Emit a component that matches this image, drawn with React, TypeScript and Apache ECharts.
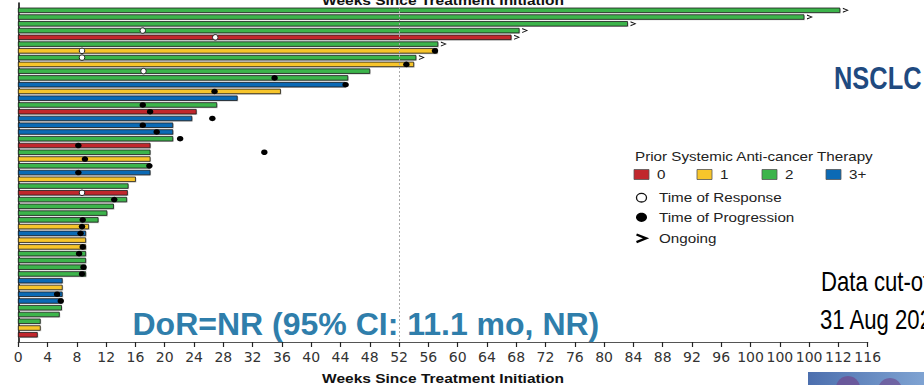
import React, { useEffect, useRef } from "react";
import * as echarts from "echarts";

// ---- data ----
const therapyGroups = ["0", "1", "2", "3+"];
const groupColors = ["#c1272d", "#f7c52b", "#3cb44b", "#0b6ab5"];

// prior therapy group per patient row (top to bottom)
const rowTherapy = [
  "2", "2", "2", "2", "0", "2", "1", "2", "1", "2",
  "2", "3+", "1", "3+", "2", "0", "3+", "3+", "3+", "2",
  "0", "2", "1", "2", "3+", "1", "2", "0", "2", "2",
  "2", "2", "1", "3+", "1", "1", "2", "2", "2", "2",
  "3+", "1", "3+", "3+", "2", "2", "2", "1", "0",
];
// weeks on treatment per row
const durationWeeks = [
  112.2, 107.3, 83.2, 68.4, 67.3, 57.3, 57.2, 54.3, 54.0, 48.0,
  45.0, 44.6, 35.8, 29.9, 27.1, 24.3, 23.7, 21.1, 21.1, 21.1,
  18.0, 18.0, 18.0, 18.0, 18.0, 16.0, 15.0, 14.9, 14.8, 13.0,
  12.1, 10.9, 9.6, 9.2, 9.2, 9.2, 9.2, 9.2, 9.2, 9.2,
  6.0, 6.0, 6.0, 6.0, 5.9, 5.6, 3.0, 3.0, 2.6,
];
const responseRows = [4, 5, 7, 8, 10, 28];
const responseWeeks = [17.0, 26.9, 8.7, 8.7, 17.1, 8.7];
const progressionRows = [7, 9, 11, 12, 13, 15, 16, 17, 18, 19, 20, 21, 22, 23, 24, 25, 29, 32, 33, 34, 36, 37, 39, 40, 43, 44];
const progressionWeeks = [56.9, 53.0, 35.0, 44.7, 26.8, 17.0, 18.0, 26.5, 17.0, 18.9, 22.1, 8.2, 33.6, 9.1, 17.9, 8.2, 13.1, 8.8, 8.7, 8.5, 8.8, 8.3, 8.9, 8.7, 5.3, 5.8];
const ongoingRows = [1, 2, 3, 4, 5, 6, 8];
const referenceWeek = 52;
const tickLabels = [
  "0", "4", "8", "12", "16", "20", "24", "28", "32", "36", "40", "44", "48", "52", "56",
  "60", "64", "68", "72", "76", "80", "84", "88", "92", "96", "100", "100", "100", "112", "116",
];
const axisTitle = "Weeks Since Treatment Initiation";
const legendTitle = "Prior Systemic Anti-cancer Therapy";
const markerLabels = ["Time of Response", "Time of Progression", "Ongoing"];
const dorText = "DoR=NR (95% CI: 11.1 mo, NR)";
const cohortText = "NSCLC";
const cutoffLines = ["Data cut-off:", "31 Aug 2020"];

const FONT = "'Liberation Sans', Arial, sans-serif";

export default function App() {
  const ref = useRef<HTMLDivElement>(null);
  useEffect(() => {
    if (!ref.current) return;
    const chart = echarts.init(ref.current, null, { renderer: "svg" });

    const barData = durationWeeks.map((w, i) => [i + 1, w, therapyGroups.indexOf(rowTherapy[i])]);
    const respData = responseRows.map((r, i) => [responseWeeks[i], r]);
    const progData = progressionRows.map((r, i) => [progressionWeeks[i], r]);
    const ongoingData = ongoingRows.map((r) => [durationWeeks[r - 1], r]);

    const legendX = 634;
    const sqX = [634, 697, 762, 826];
    const legendGraphics: any[] = [
      {
        type: "text", x: legendX + 1, y: 156, scaleX: 1.17,
        style: { text: legendTitle, fontSize: 13, fontFamily: FONT, fill: "#222", textVerticalAlign: "middle" },
      },
    ];
    therapyGroups.forEach((g, i) => {
      legendGraphics.push({
        type: "rect", shape: { x: sqX[i], y: 169.5, width: 15, height: 10 },
        style: { fill: groupColors[i], stroke: "#555", lineWidth: 0.8 },
      });
      legendGraphics.push({
        type: "text", x: sqX[i] + 23, y: 174.5, scaleX: 1.17,
        style: { text: g, fontSize: 13, fontFamily: FONT, fill: "#222", textVerticalAlign: "middle" },
      });
    });
    legendGraphics.push({
      type: "ellipse", shape: { cx: 641.5, cy: 197.7, rx: 5, ry: 4.3 },
      style: { fill: "#fff", stroke: "#111", lineWidth: 1.3 },
    });
    legendGraphics.push({
      type: "ellipse", shape: { cx: 641.5, cy: 217.3, rx: 5.5, ry: 4.6 },
      style: { fill: "#000" },
    });
    legendGraphics.push({
      type: "polyline", shape: { points: [[636.5, 234.5], [646, 238.3], [636.5, 242.1]] },
      style: { stroke: "#000", lineWidth: 2.4, fill: null },
    });
    markerLabels.forEach((t, i) => {
      legendGraphics.push({
        type: "text", x: 659, y: [197.7, 217.3, 238.3][i], scaleX: 1.17,
        style: { text: t, fontSize: 13, fontFamily: FONT, fill: "#222", textVerticalAlign: "middle" },
      });
    });

    const option: any = {
      animation: false,
      grid: { left: 18.3, right: 56.3, top: 3, bottom: 43, containLabel: false },
      xAxis: {
        type: "value", min: 0, max: 116, interval: 4,
        axisLine: { show: true, onZero: false, lineStyle: { color: "#555", width: 1.2 } },
        axisTick: { show: true, length: 5, lineStyle: { color: "#222", width: 1.2 } },
        axisLabel: {
          margin: 8, fontSize: 14, color: "#333", fontFamily: "'DejaVu Sans', sans-serif",
          formatter: (v: number) => tickLabels[Math.round(v / 4)] ?? "",
        },
        splitLine: { show: false },
      },
      yAxis: {
        type: "value", inverse: true, min: -0.08, max: 50.07,
        axisLine: { show: true, onZero: false, lineStyle: { color: "#111", width: 1.6 } },
        axisTick: { show: false }, axisLabel: { show: false }, splitLine: { show: false },
      },
      series: [
        {
          type: "line", data: [], z: 1, silent: true,
          markLine: {
            silent: true, symbol: ["none", "none"], label: { show: false },
            lineStyle: { type: [2, 2], color: "#aaa", width: 1 },
            data: [{ xAxis: referenceWeek }],
          },
        },
        {
          type: "custom", z: 2,
          encode: { x: 1, y: 0 },
          data: barData,
          renderItem: (params: any, api: any) => {
            const row = api.value(0);
            const w = api.value(1);
            const g = api.value(2);
            const s = api.coord([0, row]);
            const e = api.coord([w, row]);
            const h = 4.6;
            return {
              type: "group",
              children: [
                {
                  type: "rect",
                  shape: { x: s[0] + 1, y: s[1] - h / 2 + 1, width: e[0] - s[0], height: h },
                  style: { fill: "#c8c8c8" },
                },
                {
                  type: "rect",
                  shape: { x: s[0], y: s[1] - h / 2, width: e[0] - s[0], height: h },
                  style: { fill: groupColors[g], stroke: "#1a1a1a", lineWidth: 0.8 },
                },
              ],
            };
          },
        },
        {
          type: "scatter", z: 3, data: respData, symbol: "circle", symbolSize: 5.5,
          itemStyle: { color: "#fff", borderColor: "#222", borderWidth: 1, opacity: 1 },
        },
        {
          type: "scatter", z: 4, data: progData, symbol: "circle", symbolSize: [6.5, 5.5],
          itemStyle: { color: "#000", opacity: 1 },
        },
        {
          type: "scatter", z: 4, data: ongoingData,
          symbol: "path://M0,0 L10,5 L0,10 L0,7.6 L6.5,5 L0,2.4 Z",
          symbolSize: [6, 5], symbolOffset: [6, 0],
          itemStyle: { color: "#111", opacity: 1 },
        },
      ],
      graphic: [
        {
          type: "text", x: 443, y: 7, scaleX: 1.15,
          style: { text: axisTitle, fontSize: 13.5, fontWeight: "bold", fontFamily: FONT, fill: "#111", textAlign: "center", textVerticalAlign: "bottom" },
        },
        {
          type: "text", x: 443, y: 378.5, scaleX: 1.15,
          style: { text: axisTitle, fontSize: 13.5, fontWeight: "bold", fontFamily: FONT, fill: "#111", textAlign: "center", textVerticalAlign: "middle" },
        },
        ...legendGraphics,
        {
          type: "text", x: 132.5, y: 324, z: 10,
          style: { text: dorText, fontSize: 32, fontWeight: "bold", fontFamily: FONT, fill: "#2f7eab", textVerticalAlign: "middle" },
        },
        {
          type: "text", x: 834, y: 78, scaleX: 0.82,
          style: { text: cohortText, fontSize: 31, fontWeight: "bold", fontFamily: FONT, fill: "#1f4a80", textVerticalAlign: "middle" },
        },
        {
          type: "text", x: 821, y: 282, scaleX: 0.82,
          style: { text: cutoffLines[0], fontSize: 27, fontFamily: FONT, fill: "#000", textVerticalAlign: "middle" },
        },
        {
          type: "text", x: 820, y: 320, scaleX: 0.82,
          style: { text: cutoffLines[1], fontSize: 27, fontFamily: FONT, fill: "#000", textVerticalAlign: "middle" },
        },
        {
          type: "rect", shape: { x: 808, y: 372, width: 116, height: 13 },
          style: {
            fill: new echarts.graphic.LinearGradient(0, 0, 1, 0, [
              { offset: 0, color: "#4c6fae" },
              { offset: 1, color: "#7fa3d2" },
            ]),
          },
        },
        { type: "circle", shape: { cx: 848, cy: 388, r: 12 }, style: { fill: "#6d4f93", opacity: 0.8 } },
        { type: "circle", shape: { cx: 890, cy: 390, r: 12 }, style: { fill: "#6d4f93", opacity: 0.7 } },
      ],
    };
    chart.setOption(option);
    return () => chart.dispose();
  }, []);
  return (
    <div
      ref={ref}
      style={{ position: "absolute", left: 0, top: 0, width: 924, height: 385, background: "#fff" }}
    />
  );
}
